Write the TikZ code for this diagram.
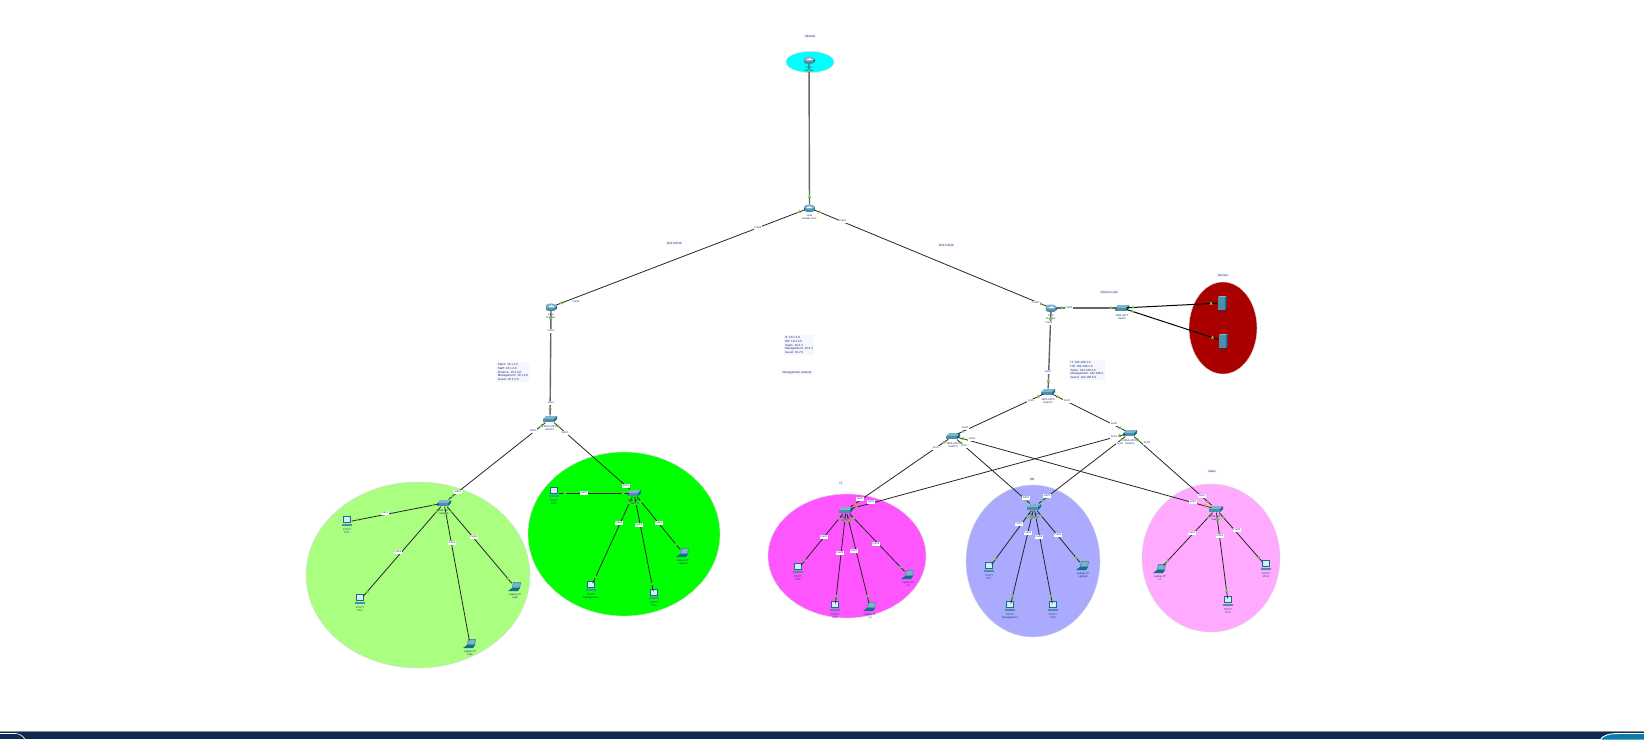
\documentclass[tikz,border=0pt]{standalone}
\usepackage{fontspec}
\setmainfont{Liberation Sans}
\usetikzlibrary{calc}
\usetikzlibrary{shapes}

\definecolor{navytxt}{HTML}{1A2A6C}
\definecolor{notebg}{HTML}{F6F7FE}
\definecolor{linkgreen}{HTML}{6CCB3C}
\definecolor{linkorange}{HTML}{F0803C}
\definecolor{iconlight}{HTML}{7DB4C6}
\definecolor{iconmid}{HTML}{4B90AA}
\definecolor{icondark}{HTML}{0E6F8E}
\definecolor{iconpale}{HTML}{DCEBEF}
\definecolor{barnavy}{HTML}{0E2A50}
\definecolor{barblue}{HTML}{0A7EA8}
\definecolor{zonecyan}{HTML}{00FFFF}
\definecolor{zonelime}{HTML}{AAFF80}
\definecolor{zonegreen}{HTML}{00FF00}
\definecolor{zonemagenta}{HTML}{FF55FF}
\definecolor{zoneblue}{HTML}{AAAAFF}
\definecolor{zonepink}{HTML}{FFAAFF}
\definecolor{zonered}{HTML}{AA0000}

\tikzset{
  netline/.style={color=black!85,line width=.8pt},
  fatline/.style={color=black!60,line width=1.4pt},
  srvline/.style={color=black,line width=1pt},
  port/.style={fill=white,inner sep=.7pt,text=navytxt,font=\fontsize{2.6}{3}\selectfont},
  tag/.style={inner sep=.8pt,fill=notebg,text=navytxt,font=\fontsize{3}{3.6}\selectfont},
  notebox/.style={tag,inner sep=1.5pt,align=left},
  devtxt/.style={inner sep=0,text=navytxt,align=center,font=\fontsize{2.6}{3.2}\selectfont},
  devbox/.style={inner sep=0,minimum width=9pt,minimum height=7pt},
  linkup/.style={regular polygon,regular polygon sides=3,inner sep=0,minimum size=4pt,fill=linkgreen},
  zone/.style={draw=black!15,line width=.4pt},
  routerimg/.pic={
    \fill[icondark] (-5.5,-1) rectangle (5.5,2);
    \fill[iconmid] (0,2) ellipse (5.5 and 2.2);
    \fill[iconlight] (0,-1) ellipse (5.5 and 2.6);
    \draw[white,line width=.4pt] (-2.5,-1) -- (2.5,-1) (0,-2.4) -- (0,.4);
  },
  switchimg/.pic={
    \fill[iconlight] (-7,0) -- (-4,-3) -- (7,-3) -- (4,0) -- cycle;
    \fill[iconmid] (-7,0) rectangle (4,3);
    \fill[icondark] (4,0) -- (7,-3) -- (7,0) -- (4,3) -- cycle;
  },
  pcimg/.pic={
    \fill[icondark] (-4,-6) rectangle (4,1);
    \fill[iconpale] (-3,-5) rectangle (3,0);
    \fill[iconmid] (-5,2) rectangle (5,3.5);
  },
  laptopimg/.pic={
    \fill[iconmid] (-2,-5) -- (6,-5) -- (5,1) -- (-3,1) -- cycle;
    \fill[iconlight] (-1.2,-4.2) -- (5,-4.2) -- (4.2,.2) -- (-2,.2) -- cycle;
    \fill[icondark] (-3,1) -- (5,1) -- (3,4) -- (-7,4) -- cycle;
  },
  serverimg/.pic={
    \fill[iconmid] (-4,-6) rectangle (3,6.5);
    \fill[icondark] (3,-6) -- (4.5,-7) -- (4.5,5.5) -- (3,6.5) -- cycle;
    \fill[iconlight] (-4,-6) -- (-2.5,-7) -- (4.5,-7) -- (3,-6) -- cycle;
  },
}

% name, x, y, icon, text under it
\newcommand{\netdev}[5]{
  \node[devbox,label={[devtxt,label distance=2.5pt]below:{#5}}] (#1) at (#2,#3) {};
  \pic at (#1) {#4};
}
% two devices, a lamp at each end
\newcommand{\netlink}[3][netline]{
  \draw[#1] (#2) -- (#3);
  \node[linkup] (#2-#3-a) at ($(#2)!11pt!(#3)$) {};
  \node[linkup] (#2-#3-b) at ($(#3)!11pt!(#2)$) {};
}

\begin{document}
\begin{tikzpicture}
[x=1pt,y=-1pt]
\useasboundingbox (0,0) rectangle (1644,739);

\fill[white] (0,0) rectangle (1644,739);

\filldraw[zone,fill=zonecyan] (810,62) ellipse (24 and 10.5); %internet
\filldraw[zone,fill=zonelime] (418,575) ellipse (112 and 93); %first zone
\filldraw[zone,fill=zonegreen] (624,534) ellipse (96 and 82);
\filldraw[zone,fill=zonemagenta] (847,556) ellipse (79 and 62);
\filldraw[zone,fill=zoneblue] (1033,561) ellipse (67 and 76);
\filldraw[zone,fill=zonepink] (1211,558) ellipse (69 and 74);
\filldraw[zone,fill=zonered] (1223,328) ellipse (34 and 46); %servers

\netdev{rtNet}{809}{60}{routerimg}{1941\\Internet}
\netdev{rtCore}{809.5}{208}{routerimg}{1941\\Router Core}
\netdev{rtLeft}{551}{307}{routerimg}{1941\\Router1}
\netdev{rtRight}{1051}{308}{routerimg}{1941\\Router2}
\netdev{swLeft}{550}{419}{switchimg}{3560-24PS\\Switch1}
\netdev{swA}{444}{503}{switchimg}{2960-24TT\\SwitchA}
\netdev{swB}{634}{493}{switchimg}{2960-24TT\\SwitchB}
\netdev{swSrv}{1122}{308}{switchimg}{2960-24TT\\Switch}
\netdev{swDist}{1048}{392}{switchimg}{3650-24PS\\Switch0}
\netdev{swDl}{953}{436}{switchimg}{3650-24PS\\Switch3}
\netdev{swDr}{1130}{433}{switchimg}{3650-24PS\\Switch4}
\netdev{swM}{846}{510}{switchimg}{2960-24TT\\Switch5}
\netdev{swP}{1034}{507}{switchimg}{2960-24TT\\Switch6}
\netdev{swK}{1216}{509}{switchimg}{2960-24TT\\Switch7}

\netdev{srvA}{1222}{303}{serverimg}{Server-PT\\DNS}
\netdev{srvB}{1223}{341}{serverimg}{Server-PT\\Web}

\netdev{pcA1}{347}{522}{pcimg}{PC-PT\\PC1}
\netdev{pcA2}{360}{600}{pcimg}{PC-PT\\PC2}
\netdev{lpA1}{470}{644}{laptopimg}{Laptop-PT\\Lap1}
\netdev{lpA2}{515}{587}{laptopimg}{Laptop-PT\\Lap2}
\netdev{pcB1}{554}{493}{pcimg}{PC-PT\\PC3}
\netdev{pcB2}{591}{587}{pcimg}{PC-PT\\Management}
\netdev{pcB3}{654}{595}{pcimg}{PC-PT\\PC4}
\netdev{lpB1}{683}{553}{laptopimg}{Laptop-PT\\Laptop3}
\netdev{pcM1}{798}{569}{pcimg}{PC-PT\\PC5}
\netdev{pcM2}{835}{607}{pcimg}{PC-PT\\PC6}
\netdev{lpM1}{870}{607}{laptopimg}{Laptop-PT\\L4}
\netdev{lpM2}{908}{575}{laptopimg}{Laptop-PT\\L5}
\netdev{pcP1}{989}{568}{pcimg}{PC-PT\\PC7}
\netdev{pcP2}{1010}{607}{pcimg}{PC-PT\\Management}
\netdev{pcP3}{1053}{607}{pcimg}{PC-PT\\PC8}
\netdev{lpP1}{1083}{566}{laptopimg}{Laptop-PT\\Laptop6}
\netdev{lpK1}{1160}{569}{laptopimg}{Laptop-PT\\L7}
\netdev{pcK1}{1228}{602}{pcimg}{PC-PT\\PC9}
\netdev{pcK2}{1266}{566}{pcimg}{PC-PT\\PC10}

\netlink[fatline]{rtNet}{rtCore}
\netlink{rtCore}{rtLeft}
\netlink{rtCore}{rtRight}
\netlink[fatline]{rtLeft}{swLeft}
\netlink[fatline]{rtRight}{swDist}
\netlink[fatline]{rtRight}{swSrv}
\netlink[srvline]{swSrv}{srvA}
\netlink[srvline]{swSrv}{srvB}
\netlink{swLeft}{swA}
\netlink{swLeft}{swB}
\netlink{swA}{pcA1}
\netlink{swA}{pcA2}
\netlink{swA}{lpA1}
\netlink{swA}{lpA2}
\netlink{swB}{pcB1}
\netlink{swB}{pcB2}
\netlink{swB}{pcB3}
\netlink{swB}{lpB1}
\netlink{swDist}{swDl}
\netlink{swDist}{swDr}
\netlink{swDl}{swM}
\netlink{swDl}{swP}
\netlink{swDl}{swK}
\netlink{swDr}{swM}
\netlink{swDr}{swP}
\netlink{swDr}{swK}
\netlink{swM}{pcM1}
\netlink{swM}{pcM2}
\netlink{swM}{lpM1}
\netlink{swM}{lpM2}
\netlink{swP}{pcP1}
\netlink{swP}{pcP2}
\netlink{swP}{pcP3}
\netlink{swP}{lpP1}
\netlink{swK}{lpK1}
\netlink{swK}{pcK1}
\netlink{swK}{pcK2}
\node[linkup,fill=linkorange] (lampM) at ($(swM)!11pt!(swDl)$) {};
\node[linkup,fill=linkorange] (lampK) at ($(swK)!11pt!(swDl)$) {};

\node[port] (pCoreL) at (758,228) {Fa0/0}; %ports round the routers
\node[port] (pCoreR) at (843,221) {Fa0/1};
\node[port] (pLeftA) at (576,302) {Fa0/0};
\node[port] (pLeftB) at (551,331) {Fa0/1};
\node[port] (pLeftC) at (551,403) {Gi0/1};
\node[port] (pRightA) at (1036,303) {Fa0/0};
\node[port] (pRightB) at (1069,308) {Fa0/1};
\node[port] (pRightC) at (1049,323) {Fa1/0};
\node[port] (pRightD) at (1048,372) {Gi0/1};
\node[port] (pLeftD) at (533,431) {Gi0/2};
\node[port] (pLeftE) at (565,433) {Gi0/3};

\node[port] (pA0) at (458,492) {Gi0/1}; %first zone
\node[port] (pA1) at (385,513) {Fa0/1};
\node[port] (pA2) at (398,552) {Fa0/2};
\node[port] (pA3) at (452,543) {Fa0/3};
\node[port] (pA4) at (474,537) {Fa0/4};

\node[port] (pB0) at (626,486) {Gi0/1};
\node[port] (pB1) at (584,493) {Fa0/1};
\node[port] (pB2) at (619,523) {Fa0/2};
\node[port] (pB3) at (639,525) {Fa0/3};
\node[port] (pB4) at (659,523) {Fa0/4};

\node[port] (pD0) at (1031,401) {Gi1/0}; %distribution
\node[port] (pD1) at (1067,401) {Gi1/1};
\node[port] (pD2) at (965,428) {Gi1/0};
\node[port] (pD3) at (972,439) {Gi1/3};
\node[port] (pD4) at (964,446) {Gi1/2};
\node[port] (pD5) at (936,448) {Gi1/1};
\node[port] (pD6) at (1114,424) {Gi1/0};
\node[port] (pD7) at (1114,437) {Gi1/1};
\node[port] (pD8) at (1120,444) {Gi1/2};
\node[port] (pD9) at (1147,443) {Gi1/3};

\node[port] (pM0) at (860,499) {Gi0/1};
\node[port] (pM5) at (871,502) {Gi0/2};
\node[port] (pM1) at (824,537) {Fa0/1};
\node[port] (pM2) at (840,553) {Fa0/2};
\node[port] (pM3) at (854,551) {Fa0/3};
\node[port] (pM4) at (876,544) {Fa0/4};

\node[port] (pP0) at (1026,498) {Gi0/1};
\node[port] (pP5) at (1047,496) {Gi0/2};
\node[port] (pP1) at (1019,524) {Fa0/1};
\node[port] (pP2) at (1028,533) {Fa0/2};
\node[port] (pP3) at (1039,537) {Fa0/3};
\node[port] (pP4) at (1058,535) {Fa0/4};

\node[port] (pK0) at (1202,496) {Gi0/2};
\node[port] (pK4) at (1193,502) {Gi0/1};
\node[port] (pK1) at (1192,533) {Fa0/1};
\node[port] (pK2) at (1220,536) {Fa0/2};
\node[port] (pK3) at (1237,530) {Fa0/3};

\node[tag] (tNet) at (810,36) {Internet}; %texts
\node[tag] (tWanL) at (674,243) {10.0.0.0/30};
\node[tag] (tWanR) at (946,245) {10.0.0.4/30};
\node[tag] (tSrvNet) at (1109,292) {Servers LAN};
\node[tag] (tSrv) at (1223,275) {Servers};
\node[tag] (tMid) at (797,373) {Management network};
\node[tag] (tZoneM) at (841,483) {IT};
\node[tag] (tZoneP) at (1032,479) {HR};
\node[tag] (tZoneK) at (1212,471) {Sales};

\node[notebox] (nLeft) at (513,372) {Sales: 10.1.1.0\\Staff: 10.1.2.0\\Finance: 10.1.3.0\\Management: 10.1.4.0\\Guest: 10.1.5.0};
\node[notebox] (nMid) at (799,345) {IT: 10.2.1.0\\HR: 10.2.2.0\\Sales: 10.2.3\\Management: 10.2.4\\Guest: 10.2.5};
\node[notebox] (nRight) at (1087,370) {IT: 192.168.1.0\\HR: 192.168.2.0\\Sales: 192.168.3.0\\Management: 192.168.4\\Guest: 192.168.5.0};

\fill[barnavy] (0,732) rectangle (1644,739); %bottom bar
\draw[black!45,line width=.8pt] (0,731.5) -- (1644,731.5);
\draw[white,line width=.6pt,rounded corners=4pt] (0,733.5) -- (20,733.5) -- (25,739);
\filldraw[draw=white,line width=.9pt,fill=barblue] (1600,740) .. controls (1603,735) and (1609,733.5) .. (1620,733.5) -- (1646,733.5) -- (1646,740) -- cycle;

\end{tikzpicture}
\end{document}
